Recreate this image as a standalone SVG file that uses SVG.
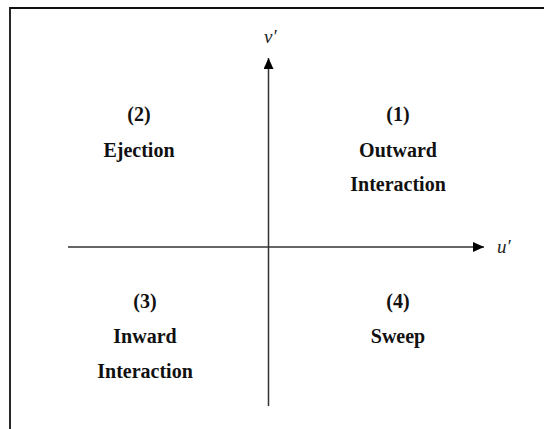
<svg xmlns="http://www.w3.org/2000/svg" width="544" height="429" viewBox="0 0 544 429">
<style>
.lbl{font-family:"Liberation Serif","Times New Roman",serif;font-weight:bold;font-size:20px;fill:#111;text-anchor:middle}
.ax{font-family:"Liberation Serif","Times New Roman",serif;font-style:italic;font-size:19px;fill:#222}
.axis{stroke:#333;stroke-width:1.5;fill:none}
.frame{stroke:#111;stroke-width:1.8;fill:none}
</style>
<defs>
<marker id="arr" viewBox="0 0 11 10" refX="11" refY="5" markerWidth="11" markerHeight="10" markerUnits="userSpaceOnUse" orient="auto">
<path d="M0,0 L11,5 L0,10 Z" fill="#000"/>
</marker>
</defs>
<rect width="544" height="429" fill="#fff"/>
<path class="frame" d="M10,429 V8 H544"/>
<g id="connectors">
<line class="axis" x1="68" y1="247" x2="484" y2="247" marker-end="url(#arr)"/>
<line class="axis" x1="268.5" y1="406" x2="268.5" y2="58" marker-end="url(#arr)"/>
</g>
<g id="axis-u"><text class="ax" x="497" y="253">u&#8242;</text></g>
<g id="axis-v"><text class="ax" x="264" y="43">v&#8242;</text></g>
<g id="q1">
<text class="lbl" x="398" y="121">(1)</text>
<text class="lbl" x="398" y="157">Outward</text>
<text class="lbl" x="398" y="191">Interaction</text>
</g>
<g id="q2">
<text class="lbl" x="139" y="121">(2)</text>
<text class="lbl" x="139" y="157">Ejection</text>
</g>
<g id="q3">
<text class="lbl" x="145" y="308">(3)</text>
<text class="lbl" x="145" y="343">Inward</text>
<text class="lbl" x="145" y="378">Interaction</text>
</g>
<g id="q4">
<text class="lbl" x="398" y="308">(4)</text>
<text class="lbl" x="398" y="343">Sweep</text>
</g>
</svg>
